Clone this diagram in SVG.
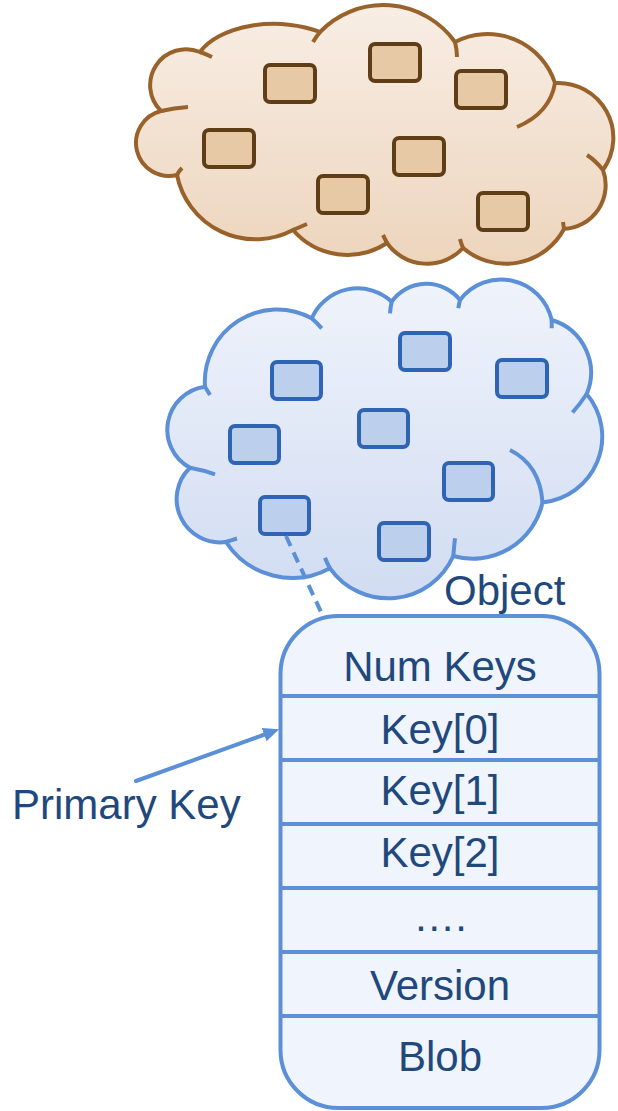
<svg xmlns="http://www.w3.org/2000/svg" width="618" height="1111" viewBox="0 0 618 1111">
  <defs>
    <linearGradient id="brownFill" gradientUnits="userSpaceOnUse" x1="0" y1="5" x2="0" y2="263">
      <stop offset="0" stop-color="#F8EEE5"/>
      <stop offset="1" stop-color="#EDD5BD"/>
    </linearGradient>
    <linearGradient id="blueFill" gradientUnits="userSpaceOnUse" x1="0" y1="280" x2="0" y2="600">
      <stop offset="0" stop-color="#EFF3FB"/>
      <stop offset="1" stop-color="#D1DCF2"/>
    </linearGradient>
    <marker id="arrowHead" markerUnits="userSpaceOnUse" markerWidth="18" markerHeight="16" refX="2" refY="7" orient="auto">
      <path d="M0,0 L16,7 L0,14 z" fill="#5B8FD7"/>
    </marker>
    <style>
      .brown-cloud { fill: url(#brownFill); stroke: #99622A; stroke-width: 4; }
      .brown-stub { fill: none; stroke: #99622A; stroke-width: 4; }
      .brown-box { fill: #E8C9A6; stroke: #5E3D17; stroke-width: 4; }
      .blue-cloud { fill: url(#blueFill); stroke: #5B8FD7; stroke-width: 4; }
      .blue-stub { fill: none; stroke: #5B8FD7; stroke-width: 4; }
      .blue-box { fill: #BCD0EE; stroke: #2F63B4; stroke-width: 4; }
      .record { fill: #F0F4FC; stroke: #5B8FD7; stroke-width: 4; }
      .divider { stroke: #5B8FD7; stroke-width: 4; }
      .label { font-family: "Liberation Sans", Arial, sans-serif; font-size: 42px; fill: #1F497D; }
      .mid { text-anchor: middle; }
    </style>
  </defs>

  <!-- upper cloud with its stored items -->
  <g id="brown-cloud">
    <path class="brown-cloud" d="M161,111
      A36,36 0 0 1 200,52
      A80,45 0 0 1 320,32
      A88,88 0 0 1 455,42
      A71,71 0 0 1 555,83
      A55,55 0 0 1 603,170
      A44,44 0 0 1 564,229
      A66,66 0 0 1 463,248
      A49,49 0 0 1 387,243
      A72,72 0 0 1 293,230
      A80,80 0 0 1 177,175
      A32.5,32.5 0 0 1 161,111 Z"/>
    <path class="brown-stub" d="M200,52 Q206,54 212,57 M161,111 Q174,108 188,107 M320,32 Q316,37 313,42 M455,42 Q457,50 457,57 M555,83 Q550,113 517,127 M603,170 Q596,161 587,155 M177,175 Q179,171 182,168 M293,230 Q300,227 307,224 M387,243 Q385,239 383,235 M463,248 Q461,243 460,239 M564,229 L563,222"/>
    <rect class="brown-box" x="265" y="65" width="50" height="37" rx="5"/>
    <rect class="brown-box" x="370" y="44" width="50" height="37" rx="5"/>
    <rect class="brown-box" x="456" y="71" width="50" height="37" rx="5"/>
    <rect class="brown-box" x="204" y="130" width="50" height="37" rx="5"/>
    <rect class="brown-box" x="394" y="138" width="50" height="37" rx="5"/>
    <rect class="brown-box" x="318" y="176" width="50" height="37" rx="5"/>
    <rect class="brown-box" x="478" y="193" width="50" height="37" rx="5"/>
  </g>

  <!-- lower cloud with its stored items -->
  <g id="blue-cloud">
    <path class="blue-cloud" d="M190,467.7
      A43.3,43.3 0 0 1 205,386.7
      A72.3,72.3 0 0 1 311.7,318.3
      A50.2,50.2 0 0 1 391.7,301.7
      A42.8,42.8 0 0 1 460,300
      A51.7,51.7 0 0 1 551.7,320
      A55,55 0 0 1 586.7,394
      A66.2,66.2 0 0 1 542.5,502.5
      A71.5,71.5 0 0 1 453.3,556
      A71.3,71.3 0 0 1 330,568.3
      A79,79 0 0 1 226,542
      A43.4,43.4 0 0 1 190,467.7 Z"/>
    <path class="blue-stub" d="M205,386.7 L210,395 M190,467.7 Q203,470 215,474.3 M226,542 Q232,540 237,538.5 M330,568.3 Q327,563 325,557.7 M453.3,556 Q454,547 455,538.3 M542.5,502.5 Q540,465 510,450 M586.7,394 Q580,404 572.5,412.5 M551.7,320 L551.7,328.3 M460,300 Q459,304 458.3,308.3 M391.7,301.7 Q390.5,307 390,313.3 M311.7,318.3 Q317,323 321.7,328.3"/>
    <rect class="blue-box" x="272" y="362" width="49" height="37" rx="5"/>
    <rect class="blue-box" x="400" y="333" width="50" height="37" rx="5"/>
    <rect class="blue-box" x="497" y="360" width="50" height="37" rx="5"/>
    <rect class="blue-box" x="359" y="410" width="49" height="37" rx="5"/>
    <rect class="blue-box" x="230" y="426" width="49" height="37" rx="5"/>
    <rect class="blue-box" x="444" y="463" width="49" height="37" rx="5"/>
    <rect class="blue-box" x="260" y="497" width="49" height="37" rx="5"/>
    <rect class="blue-box" x="379" y="523" width="50" height="37" rx="5"/>
  </g>

  <!-- object record layout -->
  <g id="object-record">
    <rect class="record" x="280.5" y="616" width="319" height="492" rx="58"/>
    <line class="divider" x1="280.5" y1="696" x2="599.5" y2="696"/>
    <line class="divider" x1="280.5" y1="760" x2="599.5" y2="760"/>
    <line class="divider" x1="280.5" y1="824" x2="599.5" y2="824"/>
    <line class="divider" x1="280.5" y1="888" x2="599.5" y2="888"/>
    <line class="divider" x1="280.5" y1="952" x2="599.5" y2="952"/>
    <line class="divider" x1="280.5" y1="1016" x2="599.5" y2="1016"/>
    <text class="label mid" x="440" y="681">Num Keys</text>
    <text class="label mid" x="440" y="744">Key[0]</text>
    <text class="label mid" x="440" y="805">Key[1]</text>
    <text class="label mid" x="440" y="867">Key[2]</text>
    <text class="label mid" x="440" y="931">….</text>
    <text class="label mid" x="440" y="1000">Version</text>
    <text class="label mid" x="440" y="1071">Blob</text>
  </g>

  <g id="object-label">
    <text class="label" x="444" y="605">Object</text>
  </g>

  <g id="primary-key-label">
    <text class="label" x="12" y="819">Primary Key</text>
  </g>

  <!-- connectors -->
  <g id="connectors">
    <line x1="286" y1="536" x2="321" y2="612" stroke="#5B8FD7" stroke-width="4" stroke-dasharray="11 7"/>
    <line x1="136" y1="781" x2="266" y2="734" stroke="#5B8FD7" stroke-width="4" stroke-linecap="round" marker-end="url(#arrowHead)"/>
  </g>
</svg>
